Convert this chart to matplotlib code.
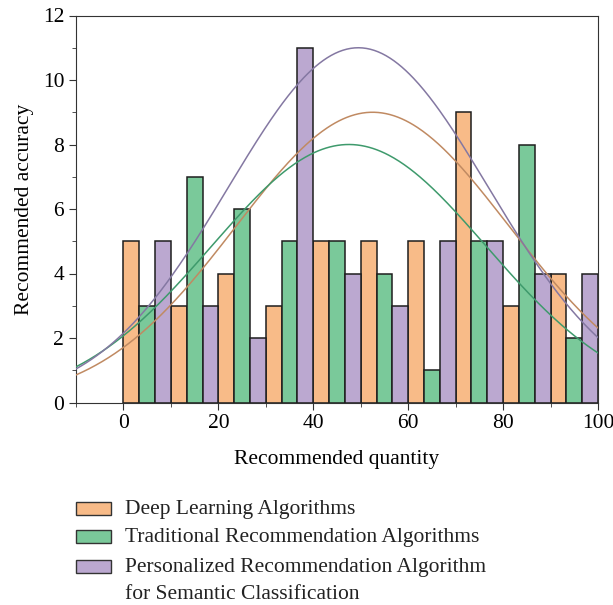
import numpy as np
import matplotlib.pyplot as plt
from matplotlib.ticker import MultipleLocator
from matplotlib.patches import Rectangle

plt.rcParams['font.family'] = ['Liberation Serif', 'DejaVu Serif']

# bin starts for each series (10-wide groups split in three)
bins = [0, 10, 20, 30, 40, 50, 60, 70, 80, 90]
deep = [5, 3, 4, 3, 5, 5, 5, 9, 3, 4]
trad = [3, 7, 6, 5, 5, 4, 1, 5, 8, 2]
pers = [5, 3, 2, 11, 4, 3, 5, 5, 4, 4]

# normal-curve fits: (peak, centre, sigma)
deep_fit = (9.0, 52.5, 28.8)
trad_fit = (8.0, 47.5, 28.9)
pers_fit = (11.0, 49.5, 27.4)

labels = ['Deep Learning Algorithms',
          'Traditional Recommendation Algorithms',
          'Personalized Recommendation Algorithm\nfor Semantic Classification']
fills = ['#F8BB88', '#7AC99A', '#BBA8D0']
curves = ['#C08A62', '#3E9A6C', '#8478A2']

W, H = 613, 605
fig = plt.figure(figsize=(W / 100, H / 100), dpi=100)
ax = fig.add_axes([76 / W, 1 - 402.5 / H, 522 / W, 387 / H])

w = 10 / 3
x = np.array(bins, dtype=float)
for i, (vals, fc) in enumerate(zip([deep, trad, pers], fills)):
    ax.bar(x + i * w, vals, width=w, align='edge', color=fc,
           edgecolor='#1e1e1e', linewidth=1.1, zorder=2)

xs = np.linspace(-10, 100, 400)
for (a, mu, s), lc in zip([deep_fit, trad_fit, pers_fit], curves):
    ax.plot(xs, a * np.exp(-(xs - mu) ** 2 / (2 * s ** 2)), color=lc,
            linewidth=1.1, zorder=3)

ax.set_xlim(-10, 100)
ax.set_ylim(0, 12)
ax.xaxis.set_major_locator(MultipleLocator(20))
ax.xaxis.set_minor_locator(MultipleLocator(10))
ax.yaxis.set_major_locator(MultipleLocator(2))
ax.yaxis.set_minor_locator(MultipleLocator(1))
ax.tick_params(which='both', direction='out', labelsize=15.5, color='#333333')
ax.tick_params(which='major', length=5)
ax.tick_params(which='minor', length=3)
for sp in ax.spines.values():
    sp.set_color('#333333')

ax.set_xlabel('Recommended quantity', fontsize=15.5, labelpad=12)
ax.set_ylabel('Recommended accuracy', fontsize=15.5, labelpad=6)

# legend drawn by hand so the swatch sits on the first line of each entry
rows = [508, 536, 566]
for lab, fc, yc in zip(labels, fills, rows):
    fig.patches.append(Rectangle((76 / W, 1 - (yc + 6.5) / H), 35 / W, 13 / H,
                                 transform=fig.transFigure, facecolor=fc,
                                 edgecolor='#333333', linewidth=1.0))
    fig.text(125 / W, 1 - (yc - 8) / H, lab, fontsize=15.5, va='top',
             ha='left', linespacing=1.55, color='#222222')

fig.savefig('out.png', dpi=100)
